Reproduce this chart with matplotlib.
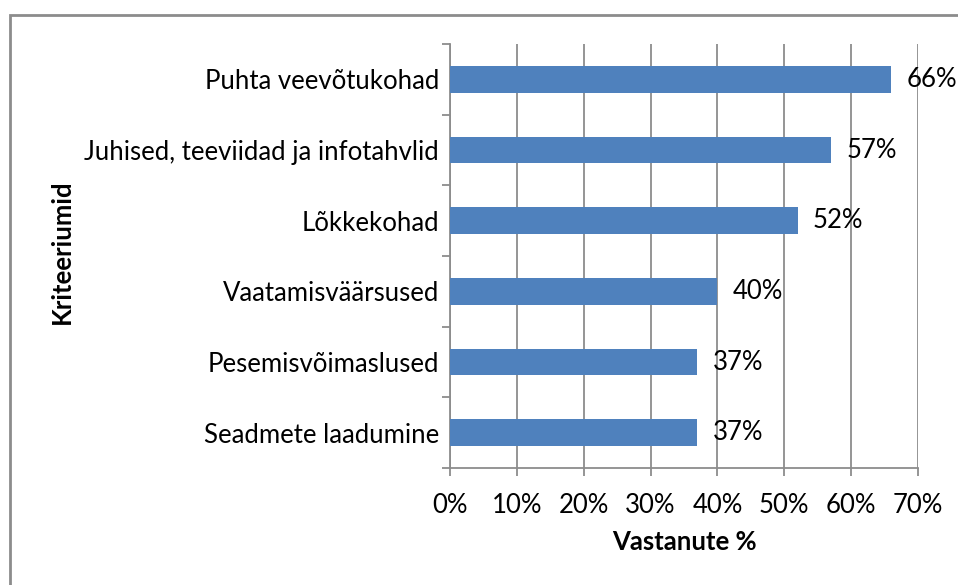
import matplotlib
matplotlib.use("Agg")
import matplotlib.pyplot as plt
from matplotlib.patches import Rectangle

# data, bottom to top as drawn
categories = [
    "Seadmete laadumine",
    "Pesemisvõimaslused",
    "Vaatamisväärsused",
    "Lõkkekohad",
    "Juhised, teeviidad ja infotahvlid",
    "Puhta veevõtukohad",
]
values = [37, 37, 40, 52, 57, 66]
xticks = [0, 10, 20, 30, 40, 50, 60, 70]

plt.rcParams["font.family"] = ["Lato", "DejaVu Sans"]
FS = 18.5

W, H = 958, 585
fig = plt.figure(figsize=(W / 100, H / 100), dpi=100)

# outer chart frame (runs off the right and bottom edges)
fig.patches.append(Rectangle((10 / W, -0.1), 1.2, (H - 15) / H + 0.1,
                             transform=fig.transFigure, fill=False,
                             edgecolor="#8c8c8c", linewidth=2))

ax = fig.add_axes([450 / W, (H - 468) / H, (918 - 450) / W, (468 - 44) / H])

grid_col = "#8c8c8c"
bar_col = "#4f81bd"

ypos = list(range(len(categories)))
ax.barh(ypos, values, height=0.38, color=bar_col, zorder=3)

for y, v in zip(ypos, values):
    ax.annotate(f"{v}%", (v, y), xytext=(11, 0), textcoords="offset points",
                ha="left", va="center", fontsize=FS, color="black", zorder=4)

ax.set_xlim(0, 70)
ax.set_ylim(-0.5, len(categories) - 0.5)
ax.set_xticks(xticks)
ax.set_xticklabels([f"{t}%" for t in xticks], fontsize=FS)
ax.xaxis.grid(True, color=grid_col, linewidth=1.3, zorder=0)

# category ticks sit between bars
ax.set_yticks([i - 0.5 for i in range(len(categories) + 1)])
ax.set_yticklabels([])
ax.set_yticks(ypos, minor=True)
ax.set_yticklabels(categories, minor=True, fontsize=FS)
ax.tick_params(axis="y", which="minor", length=0, pad=8)
ax.tick_params(axis="y", which="major", length=6, width=1.3, color=grid_col)
ax.tick_params(axis="x", length=6, width=1.3, color=grid_col, pad=12)

for side in ["top", "right"]:
    ax.spines[side].set_visible(False)
for side in ["left", "bottom"]:
    ax.spines[side].set_color(grid_col)
    ax.spines[side].set_linewidth(1.3)

ax.set_xlabel("Vastanute %", fontsize=FS, fontweight="bold", labelpad=9)
fig.text(62 / W, (H - 252) / H, "Kriteeriumid", rotation=90, ha="center",
         va="center", fontsize=FS, fontweight="bold")

fig.savefig("out.png", dpi=100)
